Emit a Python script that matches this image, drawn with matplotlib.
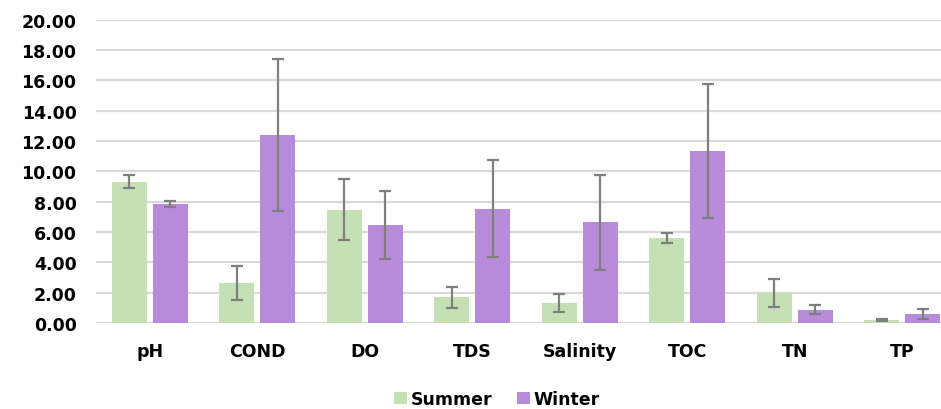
import matplotlib
matplotlib.use("Agg")
import matplotlib.pyplot as plt
import numpy as np

categories = ["pH", "COND", "DO", "TDS", "Salinity", "TOC", "TN", "TP"]
summer = [9.31, 2.64, 7.47, 1.69, 1.34, 5.60, 2.00, 0.20]
summer_err = [0.42, 1.10, 2.00, 0.70, 0.60, 0.35, 0.93, 0.04]
winter = [7.84, 12.41, 6.48, 7.54, 6.64, 11.36, 0.88, 0.61]
winter_err = [0.22, 5.02, 2.25, 3.21, 3.13, 4.42, 0.28, 0.33]
yticks = [0, 2, 4, 6, 8, 10, 12, 14, 16, 18, 20]

plt.rcParams['font.family'] = ['DejaVu Sans']

fig = plt.figure(figsize=(9.41, 4.10), dpi=100)
W, H = 941, 410
left, right = 96, 956
bottom, top = 324, 20.7
ax = fig.add_axes([left / W, (H - bottom) / H, (right - left) / W, (bottom - top) / H])

x = np.arange(len(categories))
bw = 0.325
off = 0.19
green = "#C5E0B4"
purple = "#B78BD9"
ecol = "#7F7F7F"
ekw = dict(ecolor=ecol, elinewidth=1.6, capsize=4.5, capthick=1.6)
ax.bar(x - off, summer, bw, color=green, label="Summer", zorder=3,
       yerr=summer_err, error_kw=ekw)
ax.bar(x + off, winter, bw, color=purple, label="Winter", zorder=3,
       yerr=winter_err, error_kw=ekw)

ax.set_xlim(-0.5, len(categories) - 0.5)
ax.set_ylim(0, 20)
ax.set_yticks(yticks)
ax.set_yticklabels([f"{v:.2f}" for v in yticks], fontsize=12.5, fontweight="bold")
ax.set_xticks(x)
ax.set_xticklabels(categories, fontsize=12.5, fontweight="bold")
ax.tick_params(axis="y", length=0, pad=14)
ax.tick_params(axis="x", length=0, pad=14)
ax.yaxis.grid(True, color="#D9D9D9", linewidth=1.6, zorder=0)
ax.set_axisbelow(True)
for s in ax.spines.values():
    s.set_visible(False)

leg = fig.legend(loc="center", bbox_to_anchor=(497 / W, (H - 400) / H), ncol=2,
                 frameon=False, prop=dict(size=12.5, weight="bold"),
                 handlelength=0.75, handleheight=0.75, handletextpad=0.2,
                 columnspacing=1.4)

fig.savefig("out.png", dpi=100)
